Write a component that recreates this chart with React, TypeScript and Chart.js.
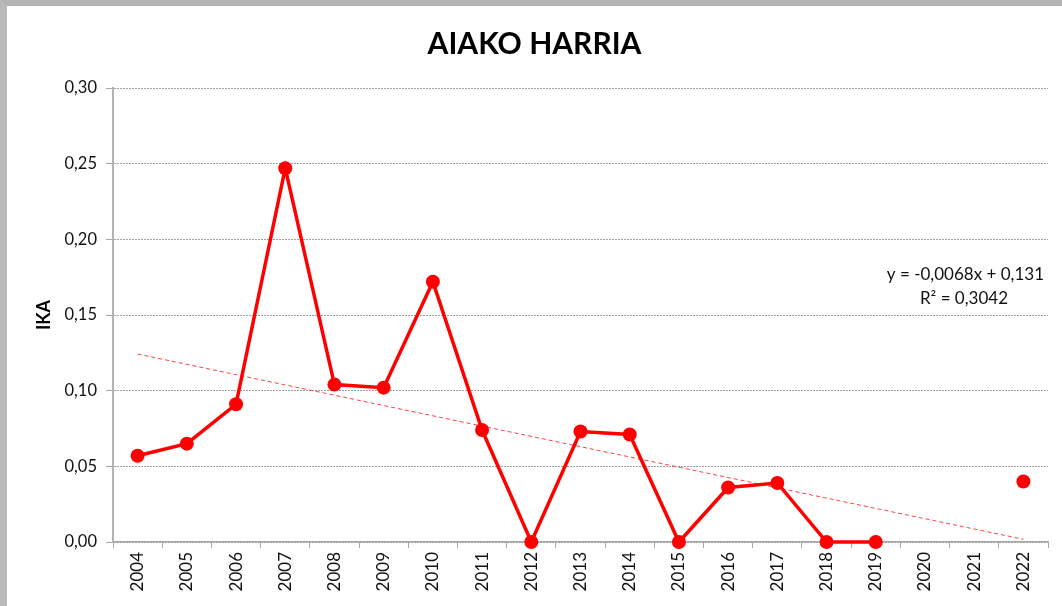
import React, { useEffect, useRef } from "react";
import { Chart, registerables } from "chart.js";

Chart.register(...registerables);

const TITLE = "AIAKO HARRIA";
const Y_LABEL = "IKA";
const YEARS = ["2004","2005","2006","2007","2008","2009","2010","2011","2012","2013","2014","2015","2016","2017","2018","2019","2020","2021","2022"];
const IKA: (number | null)[] = [0.057,0.065,0.091,0.247,0.104,0.102,0.172,0.074,0,0.073,0.071,0,0.036,0.039,0,0,null,null,0.040];
const TREND_SLOPE = -0.0068;
const TREND_INTERCEPT = 0.131;
const TREND_EQ = "y = -0,0068x + 0,131";
const TREND_R2 = "R² = 0,3042";
const Y_MIN = 0;
const Y_MAX = 0.3;
const Y_STEP = 0.05;

const FONT = "Lato, 'Open Sans', sans-serif";

export default function App() {
  const ref = useRef<HTMLCanvasElement>(null);
  useEffect(() => {
    if (!ref.current) return;
    const trend = YEARS.map((_, i) =>
      i === 0 || i === YEARS.length - 1 ? TREND_SLOPE * (i + 1) + TREND_INTERCEPT : null
    );
    const textPlugin = {
      id: "texts",
      afterDraw(chart: any) {
        const ctx = chart.ctx;
        const area = chart.chartArea;
        ctx.save();
        ctx.fillStyle = "#000";
        ctx.textAlign = "center";
        ctx.textBaseline = "middle";
        ctx.font = `bold 30px ${FONT}`;
        ctx.fillText(TITLE, chart.width / 2, 38);
        ctx.font = `bold 18px ${FONT}`;
        ctx.translate(37, (area.top + area.bottom) / 2);
        ctx.rotate(-Math.PI / 2);
        ctx.fillText(Y_LABEL, 0, 0);
        ctx.restore();
        ctx.save();
        ctx.fillStyle = "#111";
        ctx.font = `17px ${FONT}`;
        ctx.textBaseline = "middle";
        ctx.textAlign = "right";
        ctx.fillText(TREND_EQ, 1037, 269);
        ctx.textAlign = "center";
        ctx.fillText(TREND_R2, 957, 293);
        ctx.restore();
      },
    };
    const chart = new Chart(ref.current, {
      type: "line",
      data: {
        labels: YEARS,
        datasets: [
          {
            label: "IKA",
            data: IKA,
            borderColor: "#ff0000",
            backgroundColor: "#ff0000",
            borderWidth: 3.5,
            pointRadius: 7,
            pointBorderWidth: 0,
            pointBackgroundColor: "#ff0000",
            spanGaps: false,
            tension: 0,
            clip: false,
            order: 1,
          },
          {
            label: "trend",
            data: trend,
            borderColor: "#ff4040",
            borderWidth: 1,
            borderDash: [4, 3],
            pointRadius: 0,
            spanGaps: true,
            fill: false,
            order: 2,
          },
        ],
      },
      options: {
        animation: false,
        responsive: false,
        maintainAspectRatio: false,
        layout: { padding: { top: 82, right: 14, left: 0, bottom: 0 } },
        plugins: {
          legend: { display: false },
          title: { display: false },
          tooltip: { enabled: false },
        },
        scales: {
          x: {
            offset: true,
            afterFit(scale: any) {
              scale.height = 64;
            },
            grid: {
              offset: true,
              drawOnChartArea: false,
              drawTicks: true,
              tickLength: 6,
              color: "#a6a6a6",
            },
            border: { color: "#a6a6a6", width: 1.5 },
            ticks: {
              minRotation: 90,
              maxRotation: 90,
              autoSkip: false,
              padding: 4,
              color: "#111",
              font: { family: FONT, size: 17 },
            },
          },
          y: {
            min: Y_MIN,
            max: Y_MAX,
            afterFit(scale: any) {
              scale.width = 106;
            },
            grid: {
              color: "#a0a0a0",
              tickBorderDash: [],
              tickColor: "#a6a6a6",
              tickLength: 7,
              lineWidth: 1,
            },
            border: { color: "#b3b3b3", width: 2, dash: [2, 1] },
            ticks: {
              stepSize: Y_STEP,
              padding: 9,
              color: "#111",
              font: { family: FONT, size: 16.5 },
              callback: (v: any) => Number(v).toFixed(2).replace(".", ","),
            },
          },
        },
      },
      plugins: [textPlugin],
    });
    return () => chart.destroy();
  }, []);
  return (
    <div
      style={{
        position: "absolute",
        left: 0,
        top: 0,
        width: 1062,
        height: 606,
        background: "#fff",
        boxSizing: "border-box",
        borderTop: "6px solid #b4b4b4",
        borderLeft: "7px solid #bababa",
      }}
    >
      <canvas ref={ref} width={1055} height={600} style={{ display: "block" }} />
    </div>
  );
}
